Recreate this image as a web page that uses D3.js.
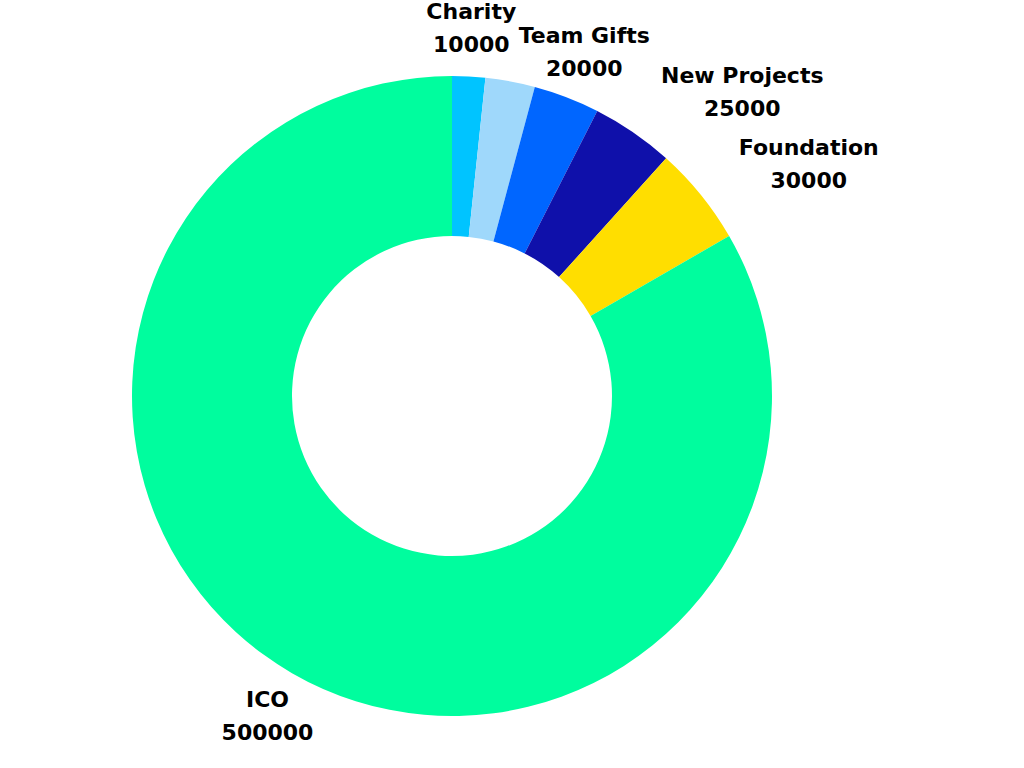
<!DOCTYPE html>
<html><head><meta charset="utf-8">
<script src="https://cdn.jsdelivr.net/npm/d3@7"></script>
<style>html,body{margin:0;padding:0;background:#fff;}svg{display:block;}</style>
</head><body>
<svg id="chart" width="1024" height="768"></svg>
<script>
const categories = ["Charity", "Other", "Team Gifts", "New Projects", "Foundation", "ICO"];
const values = [10000, 15000, 20000, 25000, 30000, 500000];
const showLabel = [true, false, true, true, true, true];
const colors = ["#00c4ff", "#9fd8fb", "#0066ff", "#0f10aa", "#ffde00", "#00fd9e"];

const svg = d3.select("#chart");
const cx = 452, cy = 396, outerR = 320, innerR = 160, labelR = 369;
const g = svg.append("g").attr("transform", `translate(${cx},${cy})`);

const data = categories.map((c, i) => ({name: c, value: values[i], color: colors[i], show: showLabel[i]}));
const pie = d3.pie().value(d => d.value).sort(null);
const arc = d3.arc().innerRadius(innerR).outerRadius(outerR);
const arcs = pie(data);

g.selectAll("path").data(arcs).join("path")
  .attr("d", arc).attr("fill", d => d.data.color);

const lab = g.selectAll("g.lab").data(arcs.filter(d => d.data.show)).join("g").attr("class", "lab")
  .attr("transform", d => {
    const a = (d.startAngle + d.endAngle) / 2;
    return `translate(${labelR * Math.sin(a)},${-labelR * Math.cos(a)})`;
  });

lab.each(function(d) {
  const a = (d.startAngle + d.endAngle) / 2;
  const s = Math.sin(a);
  const grp = d3.select(this);
  const t = grp.append("text")
    .attr("font-family", "DejaVu Sans, sans-serif").attr("font-weight", "bold")
    .attr("font-size", 22).attr("fill", "#000").attr("text-anchor", "middle");
  t.append("tspan").attr("x", 0).attr("y", -16.5).attr("dy", "0.35em").text(d.data.name);
  t.append("tspan").attr("x", 0).attr("y", 16.5).attr("dy", "0.35em").text(d.data.value);
  const bb = t.node().getBBox();
  let shift = 0;
  if (s > 0.5 + 1e-6) shift = bb.width / 2;
  else if (s < -0.5 - 1e-6) shift = -bb.width / 2;
  t.attr("transform", `translate(${shift},0)`);
});
</script>
</body></html>
